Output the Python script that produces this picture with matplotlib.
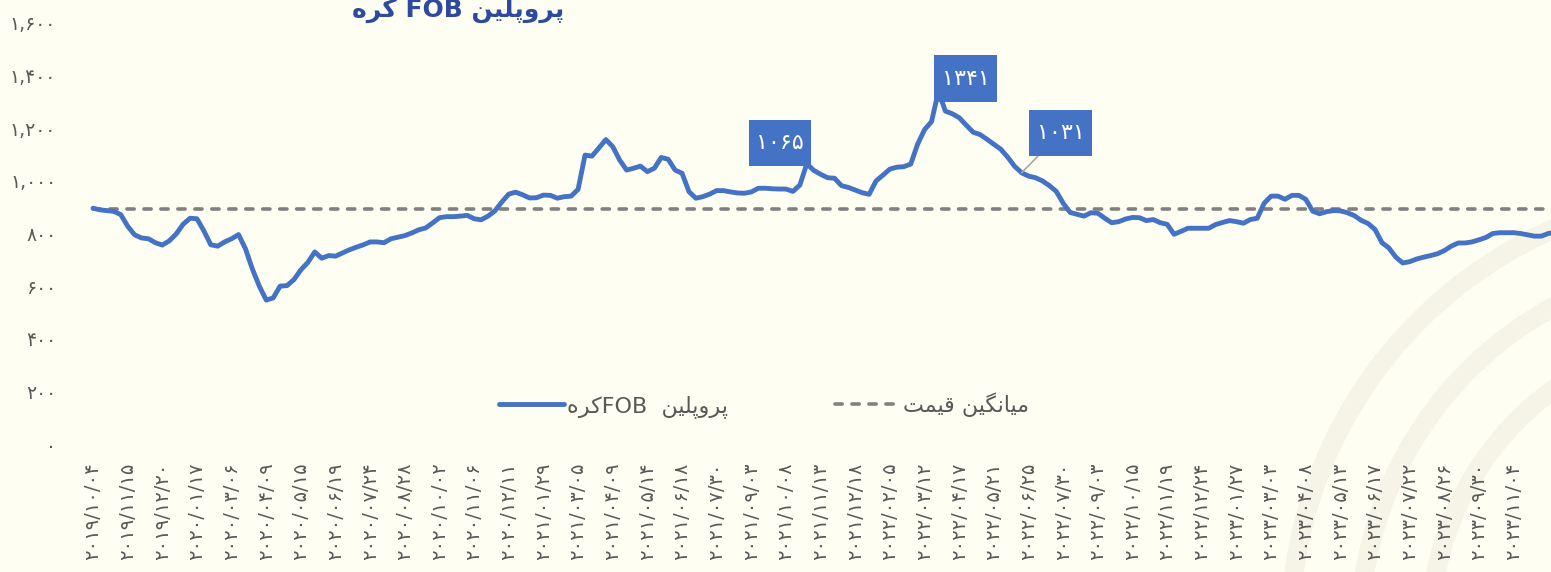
import re
import matplotlib
matplotlib.use("Agg")
import matplotlib.pyplot as plt
from matplotlib.lines import Line2D
from matplotlib.patches import Arc

# ---------------- data ----------------
dates = [
    "2019/10/04", "2019/11/15", "2019/12/20", "2020/01/17", "2020/03/06", "2020/04/09",
    "2020/05/15", "2020/06/19", "2020/07/24", "2020/08/28", "2020/10/02", "2020/11/06",
    "2020/12/11", "2021/01/29", "2021/03/05", "2021/04/09", "2021/05/14", "2021/06/18",
    "2021/07/30", "2021/09/03", "2021/10/08", "2021/11/13", "2021/12/18", "2022/02/05",
    "2022/03/12", "2022/04/17", "2022/05/21", "2022/06/25", "2022/07/30", "2022/09/03",
    "2022/10/15", "2022/11/19", "2022/12/24", "2023/01/27", "2023/03/03", "2023/04/08",
    "2023/05/13", "2023/06/17", "2023/07/22", "2023/08/26", "2023/09/30", "2023/11/04",
]
label_step = 5

prices = [
    896, 890, 887, 884, 872, 828, 795, 783, 780, 765,
    756, 772, 798, 835, 858, 856, 810, 757, 752, 768,
    780, 796, 742, 665, 600, 547, 555, 600, 602, 625,
    662, 690, 730, 706, 716, 714, 726, 738, 748, 757,
    768, 768, 765, 780, 786, 792, 802, 814, 821, 840,
    860, 864, 864, 866, 869, 856, 852, 866, 886, 920,
    950, 957, 947, 935, 936, 946, 945, 934, 940, 942,
    968, 1098, 1094, 1125, 1157, 1130, 1079, 1041, 1048, 1056,
    1035, 1048, 1089, 1082, 1041, 1029, 959, 934, 940, 950,
    963, 963, 958, 954, 953, 958, 972, 972, 970, 969,
    969, 960, 984, 1065, 1040, 1025, 1012, 1010, 982, 975,
    965, 955, 949, 1000, 1022, 1045, 1052, 1054, 1064, 1140,
    1195, 1225, 1341, 1265, 1255, 1240, 1212, 1185, 1176, 1158,
    1139, 1120, 1090, 1055, 1031, 1018, 1012, 1000, 982, 960,
    915, 880, 873, 866, 879, 877, 858, 841, 845, 855,
    861, 860, 849, 853, 841, 835, 797, 808, 820, 820,
    820, 820, 834, 842, 849, 845, 839, 853, 858, 915,
    942, 942, 930, 945, 945, 930, 885, 875, 883, 887,
    886, 879, 868, 850, 838, 815, 765, 745, 710, 688,
    693, 703, 710, 716, 723, 735, 752, 764, 764, 768,
    776, 785, 800, 803, 803, 803, 800, 795, 790, 790,
    800, 805,
]
average_price = 893
annotated = [103, 122, 134]          # indices of labelled points
y_ticks = [0, 200, 400, 600, 800, 1000, 1200, 1400, 1600]

title_text = "پروپلین FOB کره"
legend_series = "پروپلین  FOBکره"
legend_avg = "میانگین قیمت"

# ---------------- Persian helpers ----------------
FA_DIGITS = str.maketrans("0123456789", "۰۱۲۳۴۵۶۷۸۹")

FORMS = {
    'ا': ('\uFE8D', '\uFE8E', None, None),
    'ر': ('\uFEAD', '\uFEAE', None, None),
    'و': ('\uFEED', '\uFEEE', None, None),
    'ه': ('\uFEE9', '\uFEEA', '\uFEEB', '\uFEEC'),
    'ل': ('\uFEDD', '\uFEDE', '\uFEDF', '\uFEE0'),
    'ن': ('\uFEE5', '\uFEE6', '\uFEE7', '\uFEE8'),
    'م': ('\uFEE1', '\uFEE2', '\uFEE3', '\uFEE4'),
    'ت': ('\uFE95', '\uFE96', '\uFE97', '\uFE98'),
    'ق': ('\uFED5', '\uFED6', '\uFED7', '\uFED8'),
    'ک': ('\uFB8E', '\uFB8F', '\uFB90', '\uFB91'),
    'گ': ('\uFB92', '\uFB93', '\uFB94', '\uFB95'),
    'پ': ('\uFB56', '\uFB57', '\uFB58', '\uFB59'),
    'ی': ('\uFBFC', '\uFBFD', '\uFBFE', '\uFBFF'),
}


def shape(s):
    out = []
    for k, ch in enumerate(s):
        f = FORMS.get(ch)
        if f is None:
            out.append(ch)
            continue
        prev = s[k - 1] if k > 0 else None
        nxt = s[k + 1] if k + 1 < len(s) else None
        jp = prev in FORMS and FORMS[prev][2] is not None
        jn = nxt in FORMS and f[2] is not None
        if jp and jn:
            out.append(f[3])
        elif jp:
            out.append(f[1])
        elif jn:
            out.append(f[2])
        else:
            out.append(f[0])
    return ''.join(out)


AR = '\u0600-\u06FF\uFB50-\uFEFF'


def rtl(s):
    shaped = shape(s)
    runs = re.findall(r'[' + AR + r']+|\s+|[^\s' + AR + r']+', shaped)
    vis = []
    for r in reversed(runs):
        if re.match(r'[' + AR + ']', r):
            vis.append(r[::-1])
        else:
            vis.append(r)
    return ''.join(vis)


# ---------------- figure ----------------
W, H = 1551, 572
BG = '#FFFEF2'
BLUE = '#4472C4'
GREY_TXT = '#595959'
plt.rcParams['font.family'] = ['DejaVu Sans']

fig = plt.figure(figsize=(W / 100, H / 100), dpi=100, facecolor=BG)

# faint decorative arcs (bottom right)
for r in (3.0, 3.7, 4.4):
    fig.add_artist(Arc((17.3, -0.6), 2 * r, 2 * r, theta1=90, theta2=180,
                       transform=fig.dpi_scale_trans, color='#F6F4E7', lw=14, zorder=0))

px_per_pt = 6.93
x0_px = 93
ax_left_px, ax_top_px, ax_bot_px = 70, 23, 444
ax = fig.add_axes([ax_left_px / W, (H - ax_bot_px) / H,
                   (W - ax_left_px) / W, (ax_bot_px - ax_top_px) / H])
ax.set_facecolor('none')
ax.patch.set_alpha(0)

xs = list(range(len(prices)))
ax.plot(xs, [average_price] * len(xs), color='#808080', lw=2.6,
        dashes=(2.0, 2.7), dash_capstyle='round', zorder=2)
ax.plot(xs, prices, color=BLUE, lw=3.5, solid_joinstyle='round',
        solid_capstyle='round', zorder=3)

ax.set_xlim(-(x0_px - ax_left_px) / px_per_pt, (W - x0_px) / px_per_pt)
ax.set_ylim(0, 1600)

for s in ax.spines.values():
    s.set_visible(False)

ax.set_yticks(y_ticks)
ax.set_yticklabels([f"{v:,}".translate(FA_DIGITS) for v in y_ticks])
tick_pos = [i * label_step for i in range(len(dates))]
ax.set_xticks(tick_pos)
ax.set_xticklabels([d.translate(FA_DIGITS) for d in dates], rotation=90)
ax.tick_params(axis='y', length=0, pad=10, labelsize=13.5, labelcolor=GREY_TXT)
ax.tick_params(axis='x', length=0, pad=13.5, labelsize=14, labelcolor=GREY_TXT)

# data labels
offsets = {103: (-19.5, 15), 122: (19.5, 9), 134: (28, 28.5)}
for idx in annotated:
    dx, dy = offsets[idx]
    arrow = None
    if idx == 134:
        arrow = dict(arrowstyle='-', color='#A6A6A6', lw=1.2, shrinkA=0, shrinkB=0)
    ax.annotate(str(prices[idx]).translate(FA_DIGITS), xy=(idx, prices[idx]),
                xytext=(dx, dy), textcoords='offset points',
                ha='center', va='center', fontsize=16, color='white',
                bbox=dict(boxstyle='square,pad=0.32', fc=BLUE, ec='none',
                          mutation_aspect=1.85),
                arrowprops=arrow, zorder=5)

# title
fig.text(458 / W, 1 - 17 / H, rtl(title_text), ha='center', va='baseline',
         fontsize=18, fontweight='bold', color='#2E4A9E')

# legend
handles = [
    Line2D([], [], color=BLUE, lw=3.5, solid_capstyle='round'),
    Line2D([], [], color='#808080', lw=2.6, dashes=(2.0, 2.7), dash_capstyle='round'),
]
leg = ax.legend(handles, [rtl(legend_series), rtl(legend_avg)],
                loc='center', bbox_to_anchor=(764 / W, 1 - 405 / H),
                bbox_transform=fig.transFigure, ncol=2, frameon=False,
                fontsize=16, handlelength=2.9, handletextpad=0.15,
                columnspacing=4.8)
for t in leg.get_texts():
    t.set_color(GREY_TXT)

fig.savefig('out.png', dpi=100, facecolor=BG)
